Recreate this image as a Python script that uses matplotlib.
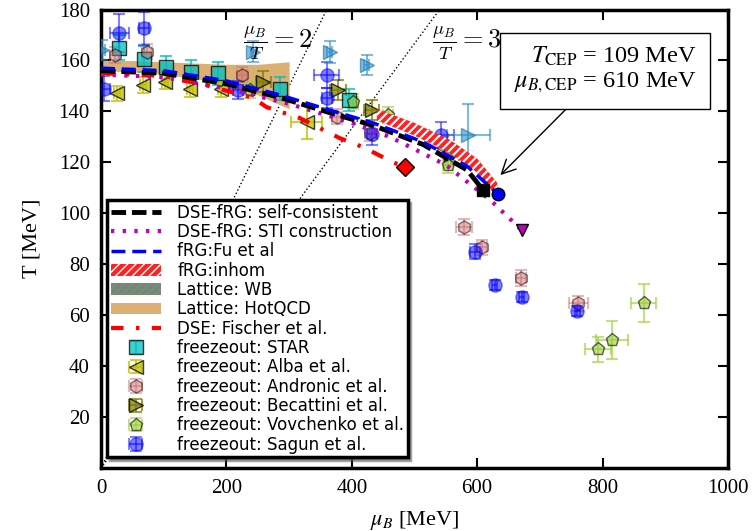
import matplotlib
matplotlib.use("Agg")
import matplotlib.pyplot as plt
import numpy as np
from matplotlib.container import ErrorbarContainer
from matplotlib.legend_handler import HandlerErrorbar

plt.rcParams['mathtext.fontset'] = 'stix'

# --- phase boundaries -------------------------------------------------------
mu_sc = [0, 100, 200, 285, 365, 434, 514, 584, 610]
T_sc = [156, 155, 150.8, 145.5, 139.5, 134.5, 127, 117, 109]

mu_sti = [0, 100, 200, 300, 400, 461, 550, 622, 671]
T_sti = [154.5, 153.5, 149, 143, 135.5, 130, 119, 105, 93.4]

mu_fu = [0, 100, 200, 285, 365, 434, 514, 584, 633]
T_fu = [157, 156, 152, 146.5, 140.5, 135.5, 128, 118.5, 107.6]

mu_fis = [0, 100, 166, 243, 264, 317, 381, 418, 466, 485]
T_fis = [155, 154, 150.4, 145.3, 141.7, 137.4, 129.5, 126, 120, 118.2]

mu_inh = [440, 500, 557, 600, 632]
T_inh_lo = [136.5, 130.5, 123.7, 116, 106.5]
T_inh_hi = [141, 135.5, 128.8, 121.5, 112]

mu_wb = [0, 50, 100, 150, 200, 250, 300]
T_wb_lo = [156.5, 156.2, 155.5, 154.5, 153, 151, 148.5]
T_wb_hi = [159, 158.8, 158.5, 158, 157.5, 157, 156.5]

mu_hot = [0, 50, 100, 150, 200, 250, 300]
T_hot_lo = [156, 155.5, 154.5, 153, 150.5, 146.5, 141]
T_hot_hi = [160, 160, 159.5, 159, 158.5, 158.5, 159.5]

# CEP / end points
cep_sc = (610, 109)
cep_fu = (633, 107.6)
end_sti = (671, 93.4)
cep_fis = (485, 118.2)

# --- freeze-out data ----------------------------------------------------------
star_mu = [29, 69, 104, 144, 187, 286, 395]
star_T = [165, 160.6, 157.4, 155.5, 155, 149, 144.5]
star_dT = [5, 5, 4.5, 4.5, 4.5, 4.5, 4.5]

alba_mu = [25, 67, 102, 142, 192, 328]
alba_T = [147.1, 150.4, 151.7, 148.7, 148.7, 136]
alba_dmu = [5, 5, 5, 5, 5, 25]
alba_dT = [3, 3, 3, 3, 3, 7]

andr_mu = [22, 73, 225, 376, 429, 546, 579, 608, 670, 761]
andr_T = [162.2, 163.5, 154.5, 137.9, 131.4, 126.8, 94.6, 86.7, 74.6, 64.6]
andr_dmu = [8, 8, 8, 8, 8, 8, 12, 8, 8, 15]
andr_dT = [3, 3, 3, 3, 3, 3, 3, 3, 3, 3]

beca_mu = [259, 378, 432, 559]
beca_T = [151.7, 148.4, 140.6, 122.9]
beca_dmu = [12, 12, 12, 12]
beca_dT = [4, 4, 4, 4]

vovc_mu = [238, 402, 458, 554, 793, 815, 866]
vovc_T = [148.4, 143.8, 138.6, 119, 46.6, 50.3, 64.9]
vovc_dmu = [8, 8, 8, 8, 21, 25, 20]
vovc_dT = [3, 3, 3, 3, 5, 7.5, 7.4]

sagun_mu = [4, 29, 68, 219, 360, 360, 432, 543, 596, 628, 671, 760]
sagun_T = [149, 170.7, 172.6, 148.4, 154.3, 145.2, 131, 130.7, 85, 72, 67.2, 61.7]
sagun_dmu = [10, 15, 8, 8, 20, 8, 8, 20, 8, 4, 4, 4]
sagun_dT = [5, 7.5, 6.5, 3.6, 5, 4, 4, 5, 3, 2, 2, 2]

other_mu = [2, 243, 365, 424, 586]
other_T = [164, 163.5, 163.5, 158.2, 130.7]
other_dmu = [4, 4, 4, 4, 34]
other_dT = [4, 4, 4.3, 4, 12.2]

fig = plt.figure(figsize=(7.52, 5.31), dpi=100)
ax = fig.add_axes([0.1343, 0.1186, 0.8337, 0.8634])

# mu/T = const lines
mu_line = np.array([0, 1000])
ax.plot(mu_line, mu_line / 2, ':', color='k', lw=1, zorder=1)
ax.plot(mu_line, mu_line / 3, ':', color='k', lw=1, zorder=1)

# lattice bands
with plt.rc_context({'hatch.color': '#55aa55', 'hatch.linewidth': 1.5}):
    wb = ax.fill_between(mu_wb, T_wb_lo, T_wb_hi, facecolor='0.5', hatch='////',
                         lw=0, zorder=2, label='Lattice: WB')
hot = ax.fill_between(mu_hot, T_hot_lo, T_hot_hi, color='#dcb073',
                      lw=0, zorder=2, label='Lattice: HotQCD')
with plt.rc_context({'hatch.color': 'white', 'hatch.linewidth': 1.5}):
    inh = ax.fill_between(mu_inh, T_inh_lo, T_inh_hi, facecolor='#ff2222',
                          hatch='////', lw=0, zorder=4, label='fRG:inhom')

# freeze-out points
eb = dict(capsize=4, elinewidth=1.5, capthick=1.5, ms=9.5, zorder=3, ls='none')
e_star = ax.errorbar(star_mu, star_T, yerr=star_dT, fmt='s', color='c', mfc='c',
                     mec='k', alpha=0.75, label='freezeout: STAR', **eb)
e_alba = ax.errorbar(alba_mu, alba_T, xerr=alba_dmu, yerr=alba_dT, fmt='<',
                     color='y', mec='k', alpha=0.75,
                     label='freezeout: Alba et al.', **eb)
e_andr = ax.errorbar(andr_mu, andr_T, xerr=andr_dmu, yerr=andr_dT, fmt='h',
                     color='#d07070', mec='k', alpha=0.5,
                     label='freezeout: Andronic et al.', **eb)
e_beca = ax.errorbar(beca_mu, beca_T, xerr=beca_dmu, yerr=beca_dT, fmt='>',
                     color='olive', mec='k', alpha=0.75,
                     label='freezeout: Becattini et al.', **eb)
e_vovc = ax.errorbar(vovc_mu, vovc_T, xerr=vovc_dmu, yerr=vovc_dT, fmt='p',
                     color='yellowgreen', mec='k', alpha=0.6,
                     label='freezeout: Vovchenko et al.', **eb)
e_sag = ax.errorbar(sagun_mu, sagun_T, xerr=sagun_dmu, yerr=sagun_dT, fmt='o',
                    color='b', mec='b', alpha=0.5,
                    label='freezeout: Sagun et al.', **eb)
ax.errorbar(other_mu, other_T, xerr=other_dmu, yerr=other_dT, fmt='>',
            color='#2a8fd0', mec='#1a6fa0', alpha=0.6, **eb)

# phase boundary curves
l_sc, = ax.plot(mu_sc, T_sc, color='k', lw=3.5, dashes=(3, 1.2), zorder=6,
                label='DSE-fRG: self-consistent')
l_sti, = ax.plot(mu_sti, T_sti, color='m', lw=3, ls=(0, (0.8, 2)), zorder=5,
                 label='DSE-fRG: STI construction')
l_fu, = ax.plot(mu_fu, T_fu, color='b', lw=2.5, dashes=(4, 2), zorder=7,
                label='fRG:Fu et al')
l_fis, = ax.plot(mu_fis, T_fis, color='r', lw=3, dashes=(3, 3, 0.8, 3),
                 zorder=5, label='DSE: Fischer et al.')

ax.plot(*cep_sc, 's', color='k', ms=9, zorder=8)
ax.plot(*cep_fu, 'o', color='b', mec='k', ms=9, zorder=8)
ax.plot(*end_sti, 'v', color='m', mec='k', ms=9, zorder=8)
ax.plot(*cep_fis, 'D', color='r', mec='k', ms=9, zorder=8)

# labels
ax.text(226, 167, r'$\frac{\mu_B}{T}=2$', fontsize=19, math_fontfamily='cm',
        va='center', ha='left', zorder=9)
ax.text(528, 167, r'$\frac{\mu_B}{T}=3$', fontsize=19, math_fontfamily='cm',
        va='center', ha='left', zorder=9)
ax.annotate('$T_\\mathrm{CEP}$ = 109 MeV\n$\\mu_{B,\\mathrm{CEP}}$ = 610 MeV',
            xy=(637, 115), xytext=(804, 156.3), ha='center', va='center',
            multialignment='right', fontsize=17.5, family='Liberation Serif',
            bbox=dict(boxstyle='square,pad=0.55', fc='white', ec='k', lw=1),
            arrowprops=dict(arrowstyle='->', color='k', lw=1,
                            mutation_scale=25, shrinkA=0, shrinkB=0),
            zorder=9)

ax.set_xlim(0, 1000)
ax.set_ylim(0, 180)
ax.set_xticks([0, 200, 400, 600, 800, 1000])
ax.set_yticks([20, 40, 60, 80, 100, 120, 140, 160, 180])
ax.tick_params(direction='in', length=7, width=1.5, top=True, right=True,
               labelsize=15, pad=8)
for lab in ax.get_xticklabels() + ax.get_yticklabels():
    lab.set_family('Liberation Serif')
for sp in ax.spines.values():
    sp.set_linewidth(2.5)

ax.set_xlabel(r'$\mu_B$ [MeV]', fontsize=16, family='Liberation Serif',
              labelpad=8)
ax.set_ylabel('T [MeV]', fontsize=16, family='Liberation Serif', labelpad=12)

handles = [l_sc, l_sti, l_fu, inh, wb, hot, l_fis,
           e_star, e_alba, e_andr, e_beca, e_vovc, e_sag]
leg = ax.legend(handles=handles, loc='lower left',
                bbox_to_anchor=(0.01, 0.024), borderaxespad=0,
                fontsize=12, labelspacing=0.08, handlelength=3.0,
                numpoints=1, fancybox=False, shadow=True, framealpha=1,
                edgecolor='k', borderpad=0.2, handletextpad=1.0,
                handler_map={ErrorbarContainer:
                             HandlerErrorbar(xerr_size=0.4, yerr_size=0.4)})
leg.get_frame().set_linewidth(2.5)
leg.set_zorder(20)

fig.savefig('out.png', dpi=100)
